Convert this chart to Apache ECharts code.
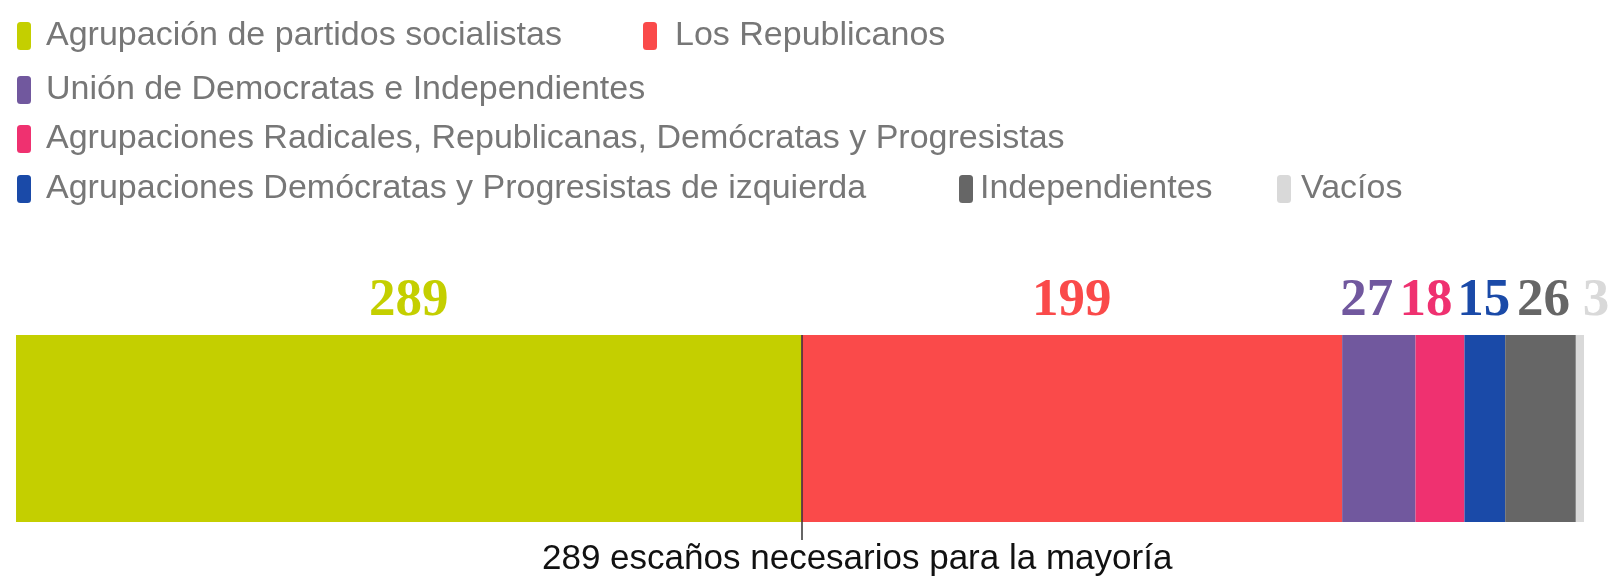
<!DOCTYPE html>
<html>
<head>
<meta charset="utf-8">
<script src="https://cdn.jsdelivr.net/npm/echarts@6/dist/echarts.min.js"></script>
<style>
  html, body { margin: 0; padding: 0; background: #fff; }
  #chart { width: 1614px; height: 577px; }
</style>
</head>
<body>
<div id="chart"></div>
<script>
// seats per group
var parties = [
  'Agrupación de partidos socialistas',
  'Los Republicanos',
  'Unión de Democratas e Independientes',
  'Agrupaciones Radicales, Republicanas, Demócratas y Progresistas',
  'Agrupaciones Demócratas y Progresistas de izquierda',
  'Independientes',
  'Vacíos'
]
var seats = [289, 199, 27, 18, 15, 26, 3]
var colors = ['#c4cf00', '#fa4a4a', '#71589e', '#ef3170', '#1a4aa8', '#666666', '#d9d9d9']
var totalSeats = 577
var majority = 289
var majorityText = '289 escaños necesarios para la mayoría'

// small nudges of the value labels, like the original
var labelShift = [0, 0, -12, -14, -1, 3, 16]

// legend placement: [left, top, gap between icon and text]
var legendPos = [
  [17, 19, 10],
  [643, 19, 13],
  [17, 73, 10],
  [17, 122, 10],
  [17, 172, 10],
  [959, 172, 2],
  [1277, 172, 5]
]

var chart = echarts.init(document.getElementById('chart'))

var legends = parties.map(function(name, i) {
  return {
    data: [name],
    left: legendPos[i][0],
    top: legendPos[i][1],
    padding: 0,
    icon: 'roundRect',
    itemWidth: 14,
    itemHeight: 28,
    selectedMode: false,
    textStyle: {
      fontFamily: 'Liberation Sans',
      fontSize: 34,
      color: '#777777',
      padding: [0, 0, 0, legendPos[i][2]]
    }
  }
})

var series = parties.map(function(name, i) {
  var s = {
    name: name,
    type: 'bar',
    stack: 'seats',
    barWidth: '100%',
    silent: true,
    itemStyle: { color: colors[i] },
    label: {
      show: true,
      position: 'top',
      distance: 7,
      offset: [labelShift[i], 0],
      fontFamily: 'Liberation Serif',
      fontWeight: 'bold',
      fontSize: 53,
      color: colors[i]
    },
    data: [seats[i]]
  }
  if (i === 0) {
    s.markLine = {
      silent: true,
      symbol: 'none',
      label: { show: false },
      lineStyle: { color: '#333333', width: 1.5, type: 'solid' },
      data: [[{ xAxis: majority, y: 335 }, { xAxis: majority, y: 540 }]]
    }
  }
  return s
})

chart.setOption({
  animation: false,
  title: {
    text: majorityText,
    left: 542,
    top: 542,
    padding: 0,
    textStyle: {
      fontFamily: 'Liberation Sans',
      fontSize: 35,
      fontWeight: 'normal',
      color: '#111111'
    }
  },
  legend: legends,
  grid: {
    left: 16,
    right: 30,
    top: 335,
    bottom: 55
  },
  xAxis: {
    type: 'value',
    min: 0,
    max: totalSeats,
    show: false
  },
  yAxis: {
    type: 'category',
    data: ['Escaños'],
    show: false
  },
  series: series
})
</script>
</body>
</html>
